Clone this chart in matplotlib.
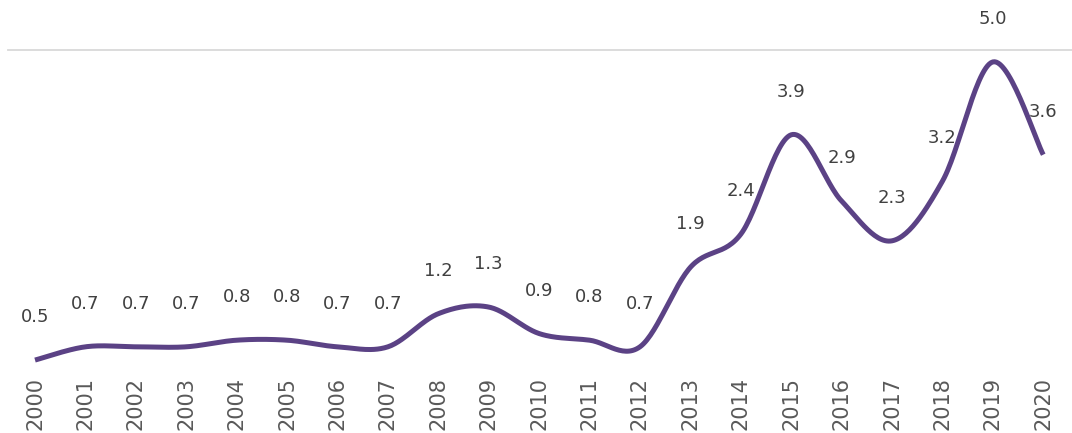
import numpy as np
import matplotlib.pyplot as plt

years = [str(y) for y in range(2000, 2021)]
values = [0.5, 0.7, 0.7, 0.7, 0.8, 0.8, 0.7, 0.7, 1.2, 1.3,
          0.9, 0.8, 0.7, 1.9, 2.4, 3.9, 2.9, 2.3, 3.2, 5.0, 3.6]

line_color = '#5b4285'
text_color = '#404040'


def smooth(x, y, n=30):
    # Excel-style smoothed line: cubic Bezier through each pair of points
    x = np.asarray(x, float)
    y = np.asarray(y, float)
    px = np.concatenate([[x[0]], x, [x[-1]]])
    py = np.concatenate([[y[0]], y, [y[-1]]])
    xs, ys = [], []
    t = np.linspace(0, 1, n)
    for i in range(len(x) - 1):
        p0 = np.array([px[i + 1], py[i + 1]])
        p3 = np.array([px[i + 2], py[i + 2]])
        c1 = p0 + (np.array([px[i + 2], py[i + 2]]) - np.array([px[i], py[i]])) / 6
        c2 = p3 - (np.array([px[i + 3], py[i + 3]]) - np.array([px[i + 1], py[i + 1]])) / 6
        b = ((1 - t) ** 3)[:, None] * p0 + (3 * (1 - t) ** 2 * t)[:, None] * c1 \
            + (3 * (1 - t) * t ** 2)[:, None] * c2 + (t ** 3)[:, None] * p3
        xs.extend(b[:, 0])
        ys.extend(b[:, 1])
    return np.array(xs), np.array(ys)


fig = plt.figure(figsize=(10.72, 4.33), dpi=100)
ax = fig.add_axes([8 / 1072, 63 / 433, 1 - 8 / 1072, 320 / 433])

x = np.arange(len(years))
sx, sy = smooth(x, values)
ax.plot(sx, sy, color=line_color, linewidth=3.6, solid_capstyle='butt')

for xi, v in zip(x, values):
    ax.annotate(f'{v:.1f}', (xi, v), xytext=(0, 31), textcoords='offset points',
                ha='center', va='center', fontsize=13, color=text_color)

ax.set_xlim(-0.536, 20.57)
ax.set_ylim(0.35, 5.18)
ax.set_xticks(x)
ax.set_xticklabels(years, rotation=90, fontsize=15, color='#595959')
ax.tick_params(axis='x', length=0, pad=5)
ax.set_yticks([])

for side in ['left', 'right', 'bottom']:
    ax.spines[side].set_visible(False)
ax.spines['top'].set_color('#d9d9d9')
ax.spines['top'].set_linewidth(1.3)

fig.savefig('out.png', dpi=100)
